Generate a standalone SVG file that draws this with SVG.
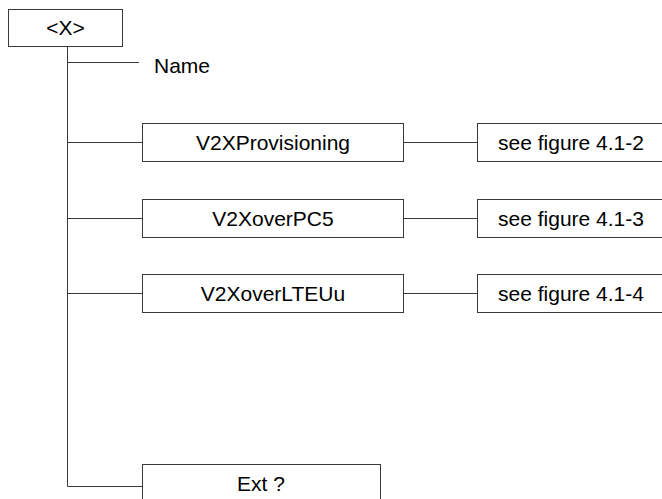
<svg xmlns="http://www.w3.org/2000/svg" width="662" height="499" viewBox="0 0 662 499">
<style>
.box{fill:#fff;stroke:#3a3a3a;stroke-width:1}
.ln{fill:none;stroke:#3a3a3a;stroke-width:1}
text{font-family:"Liberation Sans",Arial,sans-serif;font-size:21px;fill:#000}
.c{text-anchor:middle}
</style>
<rect width="662" height="499" fill="#fff"/>
<g id="connectors">
<path class="ln" d="M67.5 46 V486.5 H142"/>
<path class="ln" d="M67.5 62.5 H139"/>
<path class="ln" d="M67.5 142.5 H142"/>
<path class="ln" d="M67.5 218.5 H142"/>
<path class="ln" d="M67.5 293.5 H142"/>
<path class="ln" d="M404 142.5 H477"/>
<path class="ln" d="M404 218.5 H477"/>
<path class="ln" d="M404 293.5 H477"/>
</g>
<g id="root"><rect class="box" x="8.5" y="9.5" width="114" height="37"/><text class="c" x="65.5" y="35">&lt;X&gt;</text></g>
<g id="name"><text x="154" y="73">Name</text></g>
<g id="v2xprov"><rect class="box" x="142.5" y="123.5" width="261" height="38"/><text class="c" x="273" y="149.5">V2XProvisioning</text></g>
<g id="fig2"><rect class="box" x="477.5" y="123.5" width="200" height="38"/><text class="c" x="571" y="149.5">see figure 4.1-2</text></g>
<g id="v2xpc5"><rect class="box" x="142.5" y="199.5" width="261" height="38"/><text class="c" x="273" y="225.5">V2XoverPC5</text></g>
<g id="fig3"><rect class="box" x="477.5" y="199.5" width="200" height="38"/><text class="c" x="571" y="225.5">see figure 4.1-3</text></g>
<g id="v2xlte"><rect class="box" x="142.5" y="274.5" width="261" height="38"/><text class="c" x="273" y="300.5">V2XoverLTEUu</text></g>
<g id="fig4"><rect class="box" x="477.5" y="274.5" width="200" height="38"/><text class="c" x="571" y="300.5">see figure 4.1-4</text></g>
<g id="ext"><rect class="box" x="142.5" y="464.5" width="238" height="40"/><text class="c" x="261" y="491">Ext ?</text></g>
</svg>
